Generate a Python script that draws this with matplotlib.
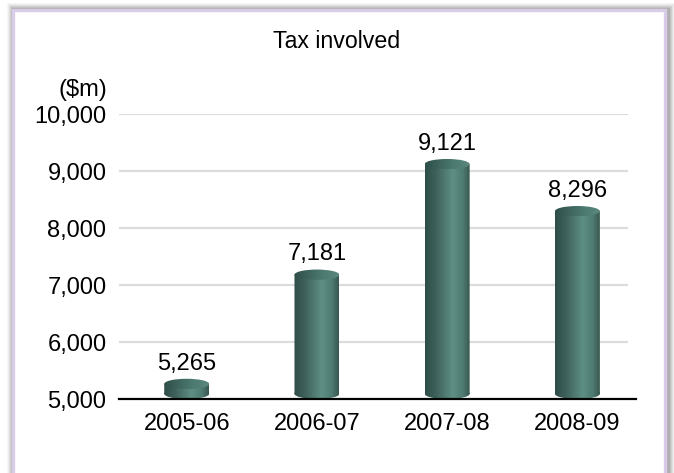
import numpy as np
import matplotlib
matplotlib.use("Agg")
import matplotlib.pyplot as plt
from matplotlib.patches import Rectangle, Ellipse, PathPatch
from matplotlib.path import Path
from matplotlib.colors import LinearSegmentedColormap

years = ["2005-06", "2006-07", "2007-08", "2008-09"]
tax = [5265, 7181, 9121, 8296]
y_ticks = [5000, 6000, 7000, 8000, 9000, 10000]
title = "Tax involved"
unit = "($m)"

W, H = 674, 473
plt.rcParams["font.family"] = ["Liberation Sans", "DejaVu Sans"]

fig = plt.figure(figsize=(W / 100, H / 100), dpi=100)
fig.patch.set_facecolor("white")


def fx(px):
    return px / W


def fy(py):
    return 1 - py / H


# drop shadow round the frame
for i, a in enumerate([0.05, 0.06, 0.08, 0.10, 0.12, 0.14]):
    grow = 7 - i
    fig.add_artist(Rectangle((fx(13 - grow + 1), fy(490)),
                             fx(652 + 2 * grow + 2), fy(10 - grow) - fy(490),
                             transform=fig.transFigure, facecolor="#555555",
                             edgecolor="none", alpha=a, zorder=0))
# frame
fig.add_artist(Rectangle((fx(13), fy(490)), fx(652), fy(10) - fy(490),
                         transform=fig.transFigure, facecolor="white",
                         edgecolor="#d9cce9", linewidth=2.4, zorder=1))

ax = fig.add_axes([fx(119), fy(399), fx(636) - fx(119), fy(114) - fy(399)])
ax.set_zorder(2)
ax.patch.set_visible(False)
x = np.arange(len(years))
ax.set_xlim(-0.52, 3.45)
ax.set_ylim(5000, 10000)

for t in y_ticks[1:]:
    ax.hlines(t, -0.52, 3.39, color="#dcdcdc", linewidth=1.6, zorder=1)
ax.axhline(5000, color="black", linewidth=1.6, zorder=5, clip_on=False)

for s in ax.spines.values():
    s.set_visible(False)
ax.set_yticks(y_ticks)
ax.set_yticklabels([f"{t:,}" for t in y_ticks])
ax.set_xticks(x)
ax.set_xticklabels(years)
ax.tick_params(axis="y", length=0, pad=9, labelsize=17)
ax.tick_params(axis="x", length=0, pad=10, labelsize=17)

fig.text(fx(107), fy(90), unit, fontsize=17, ha="right", va="center")
fig.text(0.5, fy(41), title, fontsize=16.7, ha="center", va="center")

body_cmap = LinearSegmentedColormap.from_list(
    "body", [(0, "#2f4d48"), (0.25, "#3f625c"), (0.62, "#5e8f85"),
             (0.85, "#4d7a71"), (1, "#38584f")])
top_cmap = LinearSegmentedColormap.from_list(
    "top", [(0, "#2f4e49"), (0.6, "#4a776e"), (1, "#5a887e")])
grad = np.linspace(0, 1, 200).reshape(1, -1)

bw = 0.345
eh = 90  # half height of ellipse in data units
for xi, v in zip(x, tax):
    x0, x1 = xi - bw / 2, xi + bw / 2
    ybot = 5000 + eh
    rect = Path([(x0, ybot), (x1, ybot), (x1, v), (x0, v), (x0, ybot)],
                [Path.MOVETO, Path.LINETO, Path.LINETO, Path.LINETO, Path.CLOSEPOLY])
    ell = Ellipse((xi, ybot), bw, 2 * eh)
    ell_path = ell.get_patch_transform().transform_path(ell.get_path())
    clip = PathPatch(Path.make_compound_path(rect, ell_path),
                     transform=ax.transData, facecolor="none", edgecolor="none")
    ax.add_patch(clip)
    im = ax.imshow(grad, cmap=body_cmap, extent=[x0, x1, 5000, v],
                   aspect="auto", zorder=3, interpolation="bilinear")
    im.set_clip_path(clip)
    top = Ellipse((xi, v), bw, 2 * eh, facecolor="none", edgecolor="none")
    ax.add_patch(top)
    im2 = ax.imshow(grad, cmap=top_cmap, extent=[x0, x1, v - eh, v + eh],
                    aspect="auto", zorder=4, interpolation="bilinear")
    im2.set_clip_path(top)
    ax.annotate(f"{v:,}", (xi, v + eh), xytext=(0, 3), textcoords="offset points",
                ha="center", va="bottom", fontsize=17)

ax.set_xlim(-0.52, 3.45)
ax.set_ylim(5000, 10000)

fig.savefig("out.png", dpi=100)
